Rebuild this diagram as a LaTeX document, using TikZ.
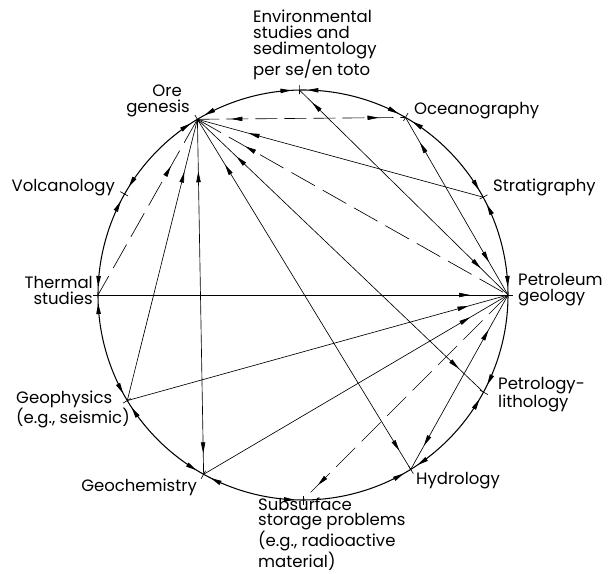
\documentclass[tikz,border=0pt]{standalone}
\usepackage{fontspec}
\setmainfont{Poppins}
\usetikzlibrary{arrows.meta,decorations.markings}

\begin{document}
\begin{tikzpicture}[x=1pt,y=1pt,
  >={Triangle[length=11pt,width=4.4pt]},
  rim/.style={line width=1.05pt},
  chord/.style={line width=0.65pt},
  longdash/.style={dash pattern=on 27pt off 9pt},
  toend/.style={postaction={decorate,decoration={markings,
      mark=at position -#1 with {\arrow{>}}}}},
  tostart/.style={postaction={decorate,decoration={markings,
      mark=at position #1 with {\arrowreversed{>}}}}},
  both/.style={tostart=#1,toend=#1},
  lbl/.style={inner sep=0pt,font=\fontsize{16.5}{16}\selectfont}
]
\useasboundingbox (0,0) rectangle (613,573);

% the twelve disciplines sit on one circle
\begin{scope}[shift={(303,278)}]
  \coordinate (petrol)  at (0:205pt);
  \coordinate (strat)   at (28.5:205pt);
  \coordinate (ocean)   at (60:205pt);
  \coordinate (env)     at (91:205pt);
  \coordinate (ore)     at (121:205pt);
  \coordinate (volc)    at (150.5:205pt);
  \coordinate (thermal) at (180:205pt);
  \coordinate (geoph)   at (211:205pt);
  \coordinate (geochem) at (241:205pt);
  \coordinate (sub)     at (270:205pt);
  \coordinate (hydro)   at (301.7:205pt);
  \coordinate (petlith) at (331.7:205pt);

  % small radial ticks marking each discipline
  \foreach \a in {0,28.5,60,91,121,150.5,180,211,241,270,301.7,331.7}
    \draw[chord] (\a:201pt) -- (\a:210pt);

  % arcs between neighbours
  \draw[rim,both=8pt] (petrol) arc[start angle=0,end angle=28.5,radius=205pt];
  \draw[rim,both=8pt] (strat) arc[start angle=28.5,end angle=60,radius=205pt];
  \draw[rim,both=8pt] (ocean) arc[start angle=60,end angle=91,radius=205pt];
  \draw[rim,both=8pt] (env) arc[start angle=91,end angle=121,radius=205pt];
  \draw[rim,both=8pt] (ore) arc[start angle=121,end angle=150.5,radius=205pt];
  \draw[rim,both=8pt] (volc) arc[start angle=150.5,end angle=180,radius=205pt];
  \draw[rim,both=8pt] (thermal) arc[start angle=180,end angle=211,radius=205pt];
  \draw[rim,both=8pt] (geoph) arc[start angle=211,end angle=241,radius=205pt];
  \draw[rim,both=8pt] (geochem) arc[start angle=241,end angle=270,radius=205pt];
  \draw[rim,toend=8pt] (sub) arc[start angle=270,end angle=301.7,radius=205pt];
  \draw[rim,both=8pt] (hydro) arc[start angle=301.7,end angle=331.7,radius=205pt];
  \draw[rim,tostart=8pt] (petlith) arc[start angle=331.7,end angle=360,radius=205pt];
\end{scope}

% links across the circle
\draw[chord,dash pattern=on 22pt off 7pt,tostart=34pt,toend=27pt] (ore) -- (ocean);
\draw[chord,tostart=53pt] (ore) -- (strat);
\draw[chord,longdash,tostart=55pt] (ore) -- (petrol);
\draw[chord,tostart=18pt,toend=38pt] (env) -- (petrol);
\draw[chord,tostart=29pt,toend=38pt] (ocean) -- (petrol);
\draw[chord,tostart=54pt,toend=34pt] (ore) -- (petlith);
\draw[chord,tostart=53pt,toend=22pt] (ore) -- (hydro);
\draw[chord,tostart=52pt,toend=21pt] (ore) -- (geochem);
\draw[chord,tostart=54pt] (ore) -- (geoph);
\draw[chord,longdash,tostart=54pt] (ore) -- (thermal);
\draw[chord,toend=38pt] (thermal) -- (petrol);
\draw[chord,toend=41pt] (geoph) -- (petrol);
\draw[chord,toend=44pt] (geochem) -- (petrol);
\draw[chord,tostart=27pt,toend=40pt] (hydro) -- (petrol);
\draw[chord,longdash,toend=21pt] (petrol) -- (sub);

% labels (a multi-line node is placed by the baseline of its last line)
\node[lbl,align=left,anchor=base west] (tenv) at (253,497)
  {Environmental\\studies and\\sedimentology\\per se/en toto};
\node[lbl,align=right,anchor=base east] (tore) at (190,460)
  {Ore\hspace*{8pt}\\genesis};
\node[lbl,anchor=base west] (tocean) at (414,458) {Oceanography};
\node[lbl,anchor=base east] (tvolc) at (115,381) {Volcanology};
\node[lbl,anchor=base west] (tstrat) at (493,381) {Stratigraphy};
\node[lbl,align=right,anchor=base east] (ttherm) at (93,268) {Thermal\\studies};
\node[lbl,align=left,anchor=base west] (tpetrol) at (518,271) {Petroleum\\geology};
\node[lbl,align=left,anchor=base west] (tgeoph) at (16,149) {Geophysics\\(e.g., seismic)};
\node[lbl,align=left,anchor=base west] (tpetlith) at (498,165) {Petrology-\\lithology};
\node[lbl,anchor=base east] (tgeochem) at (197,81) {Geochemistry};
\node[lbl,anchor=base west] (thydro) at (416,88) {Hydrology};
\node[lbl,align=left,anchor=base west,font=\fontsize{16.5}{15}\selectfont] (tsub) at (258,6)
  {Subsurface\\storage problems\\(e.g., radioactive\\material)};
\end{tikzpicture}
\end{document}
